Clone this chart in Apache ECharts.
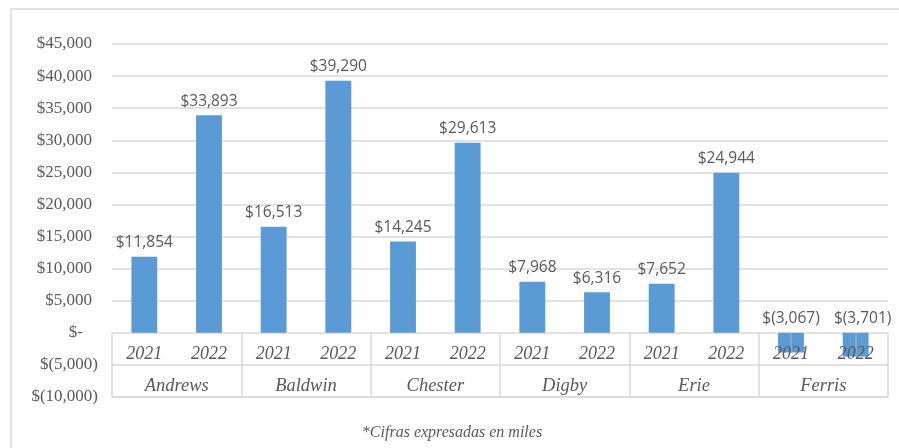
<!DOCTYPE html>
<html>
<head>
<meta charset="utf-8">
<script src="https://cdn.jsdelivr.net/npm/echarts@6/dist/echarts.min.js"></script>
<style>
  html, body { margin: 0; padding: 0; background: #ffffff; }
  #chart { width: 899px; height: 448px; }
</style>
</head>
<body>
<div id="chart"></div>
<script>
// Utilidad operativa por empresa (miles de dólares)
const companies = ['Andrews', 'Baldwin', 'Chester', 'Digby', 'Erie', 'Ferris'];
const years = ['2021', '2022'];
const values2021 = [11854, 16513, 14245, 7968, 7652, -3067];
const values2022 = [33893, 39290, 29613, 6316, 24944, -3701];
const yTicks = { min: -10000, max: 45000, step: 5000 };
const footnote = '*Cifras expresadas en miles';

const GRID = '#d9d9d9';
const TEXT = '#595959';
const BAR = '#5b9bd5';
const LEADER = '#a6a6a6';
const SERIF = '"Liberation Serif", "DejaVu Serif", serif';
const SANS = '"Open Sans", "Liberation Sans", sans-serif';

// One bar per company-year, in axis order
const yearLabels = [];
const barValues = [];
companies.forEach((c, i) => {
  yearLabels.push(years[0], years[1]);
  barValues.push(values2021[i], values2022[i]);
});

function thousands(n) {
  return Math.abs(n).toString().replace(/\B(?=(\d{3})+(?!\d))/g, ',');
}
function money(v) {
  if (v === 0) return '$-';
  return v < 0 ? '$(' + thousands(v) + ')' : '$' + thousands(v);
}

// Leader lines tie the labels of negative bars back to their bars
const leaderLines = [];
barValues.forEach((v, i) => {
  if (v < 0) leaderLines.push([{ coord: [i, 0] }, { coord: [i, v] }]);
});

const chart = echarts.init(document.getElementById('chart'), null, { renderer: 'canvas' });

chart.setOption({
  backgroundColor: '#ffffff',
  animation: false,
  grid: { left: 112, right: 11, top: 44, bottom: 51 },
  graphic: [
    {
      type: 'rect',
      shape: { x: 11, y: 9, width: 900, height: 460 },
      style: { fill: 'none', stroke: GRID, lineWidth: 1.5 },
      silent: true, z: -1
    },
    {
      type: 'text',
      x: 452, y: 433,
      style: {
        text: footnote,
        fill: TEXT,
        font: 'italic 16px ' + SERIF,
        textAlign: 'center',
        textVerticalAlign: 'middle'
      }
    }
  ],
  xAxis: [
    {
      type: 'category',
      data: yearLabels,
      position: 'bottom',
      z: 10,
      axisLine: { show: false, onZero: false },
      axisTick: { show: false },
      axisLabel: {
        inside: true,
        interval: 0,
        margin: 34,
        color: TEXT,
        fontFamily: SERIF,
        fontStyle: 'italic',
        fontSize: 18
      },
      splitLine: { show: false }
    },
    {
      type: 'category',
      data: companies,
      position: 'bottom',
      z: 10,
      axisLine: { onZero: false, lineStyle: { color: GRID, width: 1.5 } },
      axisTick: { show: true, inside: true, length: 64, interval: 0, lineStyle: { color: GRID, width: 1.5 } },
      axisLabel: {
        inside: true,
        interval: 0,
        margin: 1,
        color: TEXT,
        fontFamily: SERIF,
        fontStyle: 'italic',
        fontSize: 18.5
      },
      splitLine: { show: false }
    }
  ],
  yAxis: {
    type: 'value',
    min: yTicks.min,
    max: yTicks.max,
    interval: yTicks.step,
    axisLine: { show: false },
    axisTick: { show: false },
    splitLine: { lineStyle: { color: GRID, width: 1.5 } },
    axisLabel: {
      margin: 14,
      color: TEXT,
      fontFamily: SERIF,
      fontSize: 17,
      formatter: function (v) {
        if (v === 0) return '{z|$-}';
        return v < 0 ? '{n|' + money(v) + '}' : '{p|' + money(v) + '}';
      },
      rich: {
        p: { color: TEXT, fontFamily: SERIF, fontSize: 17, padding: [0, 6, 0, 0] },
        n: { color: TEXT, fontFamily: SERIF, fontSize: 17 },
        z: { color: TEXT, fontFamily: SERIF, fontSize: 17, padding: [0, 15, 0, 0] }
      }
    }
  },
  series: [
    {
      type: 'bar',
      xAxisIndex: 0,
      data: barValues.map((v, i) => {
        const item = { value: v };
        // Keep the two negative labels of the last company apart
        if (v < 0 && i % 2 === 1) item.label = { offset: [7, 0] };
        return item;
      }),
      barWidth: '40%',
      itemStyle: { color: BAR },
      label: {
        show: true,
        position: 'top',
        distance: 6,
        color: TEXT,
        fontFamily: SANS,
        fontSize: 15.5,
        formatter: p => money(p.value)
      },
      markLine: {
        silent: true,
        symbol: 'none',
        label: { show: false },
        lineStyle: { color: LEADER, width: 1.5, type: 'solid' },
        data: leaderLines
      }
    }
  ]
});
</script>
</body>
</html>
